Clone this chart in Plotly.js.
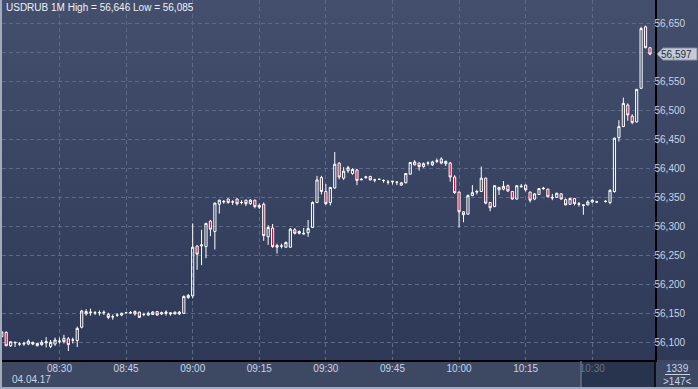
<!DOCTYPE html>
<html><head><meta charset="utf-8">
<script src="https://cdn.plot.ly/plotly-3.0.1.min.js"></script>
<style>
html,body{margin:0;padding:0;background:#2f3b58;overflow:hidden;}
#chart{width:698px;height:389px;background:linear-gradient(to bottom,#434f6c 0px,#2d3957 360px,#3d4963 360px,#3d4963 389px);}
</style></head><body><div id="chart"></div>
<script>
// ---- data (1-minute bars, first bar is the partially visible one) ----
const open = [56110,56117,56094,56099,56097,56097,56097,56100,56094,56096,56099,56093,56097,56102,56107,56106,56104,56103,56126,56149,56151,56151,56151,56152,56148,56144,56147,56147,56151,56151,56153,56152,56148,56147,56148,56153,56149,56150,56151,56152,56149,56150,56177,56180,56266,56266,56265,56309,56291,56338,56342,56347,56342,56347,56341,56345,56339,56345,56336,56338,56282,56297,56267,56266,56264,56264,56294,56291,56288,56289,56298,56341,56384,56360,56341,56366,56409,56383,56396,56391,56397,56380,56384,56386,56380,56381,56379,56376,56378,56376,56371,56375,56390,56406,56409,56403,56409,56406,56412,56416,56408,56409,56385,56359,56325,56321,56353,56359,56360,56383,56341,56334,56367,56364,56370,56360,56347,56368,56371,56359,56347,56355,56366,56364,56350,56350,56356,56346,56338,56348,56339,56337,56337,56342,56342,null,56343,56341,56360,56453,56472,56509,56490,56480,56538,56644,56608];
const high = [56119,56119,56101,56100,56100,56101,56105,56101,56099,56104,56109,56104,56108,56108,56113,56109,56108,56127,56156,56157,56158,56154,56155,56155,56151,56148,56150,56151,56152,56154,56155,56153,56151,56153,56154,56154,56153,56155,56152,56153,56154,56181,56183,56305,56267,56294,56306,56311,56341,56346,56345,56348,56345,56348,56345,56346,56347,56346,56339,56341,56302,56304,56270,56270,56274,56297,56297,56293,56297,56311,56343,56387,56387,56373,56368,56428,56410,56402,56404,56400,56399,56383,56387,56387,56382,56382,56381,56380,56378,56377,56376,56392,56411,56414,56410,56410,56412,56413,56417,56419,56413,56411,56388,56360,56326,56355,56371,56363,56403,56384,56342,56371,56368,56378,56372,56361,56371,56373,56372,56360,56357,56366,56368,56365,56356,56358,56357,56348,56349,56349,56342,56338,56345,56346,56344,null,56345,56364,56453,56483,56522,56512,56493,56537,56644,56646,56608];
const low = [56108,56094,56092,56092,56094,56094,56095,56095,56093,56094,56091,56090,56094,56098,56098,56085,56098,56092,56124,56146,56146,56147,56146,56147,56140,56139,56144,56145,56150,56149,56146,56142,56145,56146,56147,56146,56147,56146,56146,56148,56147,56149,56175,56176,56225,56233,56245,56283,56260,56322,56339,56339,56337,56336,56338,56335,56337,56331,56330,56275,56268,56263,56253,56262,56263,56263,56286,56286,56286,56282,56297,56340,56355,56337,56336,56365,56381,56380,56392,56389,56371,56380,56382,56379,56376,56380,56375,56372,56372,56371,56370,56374,56389,56405,56396,56401,56405,56404,56409,56407,56404,56377,56356,56298,56307,56320,56352,56355,56359,56338,56326,56333,56354,56362,56359,56346,56346,56367,56360,56341,56345,56354,56363,56350,56345,56349,56346,56336,56337,56336,56334,56320,56336,56340,56340,null,56341,56338,56358,56446,56471,56482,56476,56479,56537,56607,56595];
const close = [56118,56094,56101,56100,56097,56098,56102,56097,56098,56100,56101,56100,56104,56102,56101,56096,56104,56124,56154,56153,56152,56151,56151,56151,56143,56144,56147,56150,56151,56151,56149,56143,56148,56150,56152,56147,56151,56152,56149,56149,56152,56179,56181,56264,56252,56268,56305,56295,56340,56345,56343,56341,56342,56339,56341,56339,56345,56334,56333,56284,56298,56265,56264,56266,56272,56295,56288,56288,56287,56296,56341,56380,56360,56339,56367,56407,56385,56395,56401,56398,56379,56381,56385,56380,56380,56381,56379,56376,56377,56376,56375,56391,56410,56411,56403,56408,56409,56411,56413,56409,56412,56385,56358,56325,56320,56353,56358,56360,56383,56340,56332,56370,56363,56369,56361,56347,56370,56369,56363,56345,56356,56365,56365,56351,56349,56357,56347,56337,56348,56339,56338,56336,56342,56345,56342,null,56343,56362,56452,56472,56512,56492,56479,56536,56641,56608,56597];
const tickIndex  = [12, 27, 42, 57, 72, 87, 102, 117, 132];
const tickLabels = ['08:30','08:45','09:00','09:15','09:30','09:45','10:00','10:15','10:30'];
const priceTicks = [56100,56150,56200,56250,56300,56350,56400,56450,56500,56550,56600,56650];
const symbol = 'USDRUB', period = '1M', dateLabel = '04.04.17', counterLabel = '1339';

// ---- derived ----
const barIndex = open.map((_, i) => i - 1);
const fmt = v => Math.round(v).toLocaleString('en-US');
const hiVal = Math.max(...high.filter(v => v !== null));
const loVal = Math.min(...low.filter(v => v !== null));
let lastClose = null;
for (let i = close.length - 1; i >= 0; i--) { if (close[i] !== null) { lastClose = close[i]; break; } }

const FONT = 'Liberation Sans, Arial, sans-serif';
const LBL = '#c9d3e6';
const GRID = '#5d6a87';
const Y_RANGE = [56069.5, 56690.2];

const trace = {
  type: 'candlestick', x: barIndex, open: open, high: high, low: low, close: close,
  increasing: {line: {color: '#ffffff', width: 1}, fillcolor: 'rgba(0,0,0,0)'},
  decreasing: {line: {color: '#ffffff', width: 1}, fillcolor: '#d3103b'},
  whiskerwidth: 0, hoverinfo: 'skip'
};

const ticktext = tickLabels.map((t, i) => i === tickLabels.length - 1 ? '<span style="color:#66728c">' + t + '</span>' : t);

// plot area pixel helpers (layout only)
const PL = 2, PR = 655, PT = 0, PB = 360;
const px = p => (p - PL) / (PR - PL);
const py = p => (PB - p) / (PB - PT);
// price labels hidden under the last-price tag (as in the original)
const unitsPerPx = (Y_RANGE[1] - Y_RANGE[0]) / (PB - PT);
const priceText = priceTicks.map(v => Math.abs(v - lastClose) / unitsPerPx < 9 ? '' : fmt(v));

const layout = {
  width: 698, height: 389,
  margin: {l: PL, r: 698 - PR, t: PT, b: 389 - PB, pad: 0},
  paper_bgcolor: 'rgba(0,0,0,0)', plot_bgcolor: 'rgba(0,0,0,0)',
  showlegend: false, boxgap: 0.3,
  xaxis: {
    range: [-0.946, 146.13], tickmode: 'array', tickvals: tickIndex, ticktext: ticktext,
    showgrid: true, gridcolor: GRID, gridwidth: 1, griddash: '4px,3px',
    zeroline: false, showline: true, linecolor: '#000000', linewidth: 1.5, ticks: '',
    ticklabelstandoff: -2,
    tickfont: {family: FONT, size: 10, color: LBL}, rangeslider: {visible: false}, fixedrange: true
  },
  yaxis: {
    side: 'right', range: Y_RANGE, tickmode: 'array', tickvals: priceTicks,
    ticktext: priceText, showgrid: true, gridcolor: GRID, gridwidth: 1, griddash: '4px,3px',
    zeroline: false, showline: true, linecolor: '#000000', linewidth: 1.5, ticks: '',
    ticklabelstandoff: -4,
    tickfont: {family: FONT, size: 10, color: LBL}, fixedrange: true
  },
  shapes: [
    {type: 'rect', xref: 'paper', yref: 'paper', x0: px(581), x1: px(655), y0: py(387), y1: py(361),
     fillcolor: '#28334d', line: {width: 0}, layer: 'below'},
    {type: 'line', xref: 'paper', yref: 'paper', x0: px(581), x1: px(581), y0: py(387), y1: py(361),
     line: {color: '#68718a', width: 1.5}},
    {type: 'line', xref: 'paper', yref: 'paper', x0: 1, x1: 1, y0: py(387), y1: py(360),
     line: {color: '#000000', width: 1.5}},
    {type: 'line', xref: 'paper', yref: 'paper', x0: px(665), x1: px(690), y0: py(374.5), y1: py(374.5),
     line: {color: LBL, width: 1}},
    {type: 'rect', xref: 'paper', yref: 'paper', x0: px(0), x1: px(698), y0: py(389), y1: py(387),
     fillcolor: '#a3abbb', line: {width: 0}},
    {type: 'rect', xref: 'paper', yref: 'paper', x0: px(0), x1: px(2), y0: py(387), y1: py(0),
     fillcolor: '#a3abbb', line: {width: 0}},
    {type: 'path', xref: 'paper', xsizemode: 'pixel', xanchor: 1, yref: 'y', ysizemode: 'pixel', yanchor: lastClose,
     path: 'M 2 0 L 8 6 L 42 6 L 42 -6 L 8 -6 Z', fillcolor: '#c6cad2', line: {color: '#8d94a2', width: 1}}
  ],
  annotations: [
    {xref: 'paper', yref: 'paper', x: px(4), y: py(7), xanchor: 'left', yanchor: 'middle', showarrow: false,
     text: symbol + ' ' + period + ' High = ' + fmt(hiVal) + ' Low = ' + fmt(loVal),
     font: {family: FONT, size: 10, color: '#eef2f8'}},
    {xref: 'paper', yref: 'paper', x: px(10), y: py(379), xanchor: 'left', yanchor: 'middle', showarrow: false,
     text: dateLabel, font: {family: FONT, size: 10, color: LBL}},
    {xref: 'paper', yref: 'paper', x: px(677), y: py(368), xanchor: 'center', yanchor: 'middle', showarrow: false,
     text: counterLabel, font: {family: FONT, size: 10, color: LBL}},
    {xref: 'paper', yref: 'paper', x: px(677), y: py(381), xanchor: 'center', yanchor: 'middle', showarrow: false,
     text: '&gt;' + open.length + '&lt;', font: {family: FONT, size: 10, color: LBL}},
    {xref: 'paper', yref: 'y', x: px(659), y: lastClose, xanchor: 'left', yanchor: 'middle', showarrow: false,
     text: fmt(lastClose), font: {family: FONT, size: 10, color: '#1f2a44'}}
  ]
};

Plotly.newPlot('chart', [trace], layout, {staticPlot: true, displayModeBar: false});
</script></body></html>
